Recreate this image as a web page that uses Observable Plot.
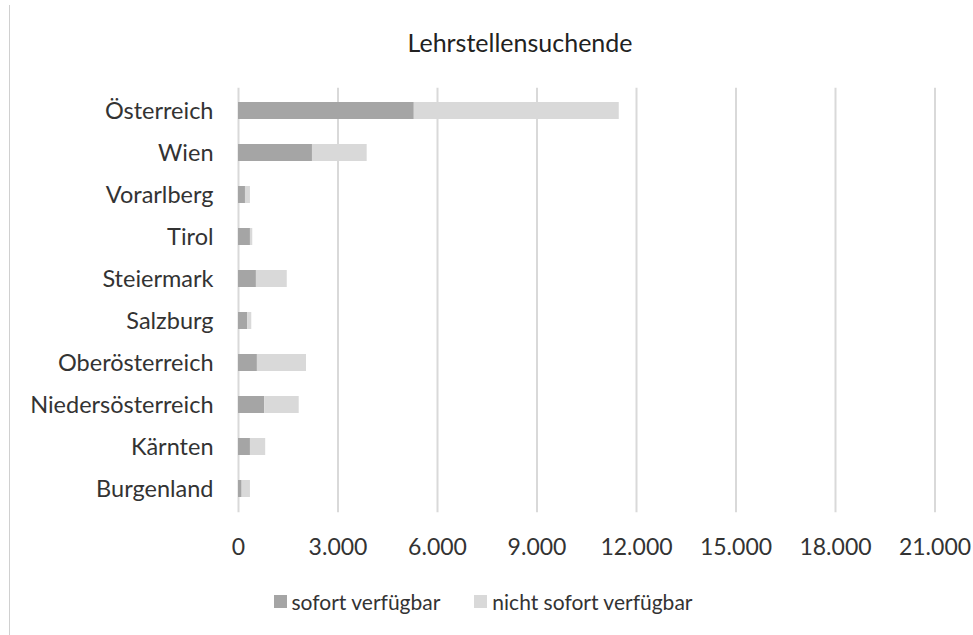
<!DOCTYPE html>
<html>
<head>
<meta charset="utf-8">
<script src="https://cdn.jsdelivr.net/npm/d3@7"></script>
<script src="https://cdn.jsdelivr.net/npm/@observablehq/plot@0.6"></script>
<style>
  html, body { margin: 0; padding: 0; background: #fff; }
  #wrap { position: relative; width: 973px; height: 635px; overflow: hidden; font-family: Lato, "Open Sans", sans-serif; }
  #frame { position: absolute; left: 9px; top: 5px; width: 1px; height: 640px; background: #d0d0d0; z-index: 5; }
  #title { position: absolute; top: 27px; left: 0; width: 1040px; text-align: center; font-size: 25px; color: #222; }
  #chart { position: absolute; top: 70px; left: 0; }
  #legend { position: absolute; top: 589px; left: 0; width: 966px; display: flex; justify-content: center; gap: 34px; font-size: 21px; color: #333; }
  #legend .item { display: flex; align-items: center; gap: 5px; }
  #legend .sw { width: 13px; height: 13px; display: inline-block; }
</style>
</head>
<body>
<div id="wrap">
  <div id="frame"></div>
  <div id="title">Lehrstellensuchende</div>
  <div id="chart"></div>
  <div id="legend"></div>
</div>
<script>
const regions = ["Österreich", "Wien", "Vorarlberg", "Tirol", "Steiermark", "Salzburg", "Oberösterreich", "Niedersösterreich", "Kärnten", "Burgenland"];
const series = ["sofort verfügbar", "nicht sofort verfügbar"];
const sofort = [5300, 2230, 210, 360, 540, 280, 570, 790, 360, 110];
const nichtSofort = [6180, 1650, 150, 70, 930, 120, 1480, 1040, 460, 250];
const colors = ["#a5a5a5", "#d9d9d9"];
const xTicks = [0, 3000, 6000, 9000, 12000, 15000, 18000, 21000];

const data = [];
regions.forEach((r, i) => {
  data.push({region: r, series: series[0], value: sofort[i]});
  data.push({region: r, series: series[1], value: nichtSofort[i]});
});

const fmt = d => d3.format(",")(d).replace(/,/g, ".");

const plot = Plot.plot({
  width: 973,
  height: 505,
  marginTop: 17.8,
  marginBottom: 62.8,
  marginLeft: 238,
  marginRight: 38.5,
  style: {fontFamily: "Lato, 'Open Sans', sans-serif", fontSize: "23px", color: "#333", background: "#fff"},
  x: {domain: [0, 21000], ticks: xTicks, tickFormat: fmt, label: null, tickSize: 0, tickPadding: 26},
  y: {domain: regions, paddingInner: 0.59, paddingOuter: 0.295, label: null, tickSize: 0, tickPadding: 25},
  color: {domain: series, range: colors},
  marks: [
    Plot.ruleX(xTicks, {stroke: "#d9d9d9", strokeWidth: 2}),
    Plot.barX(data, {x: "value", y: "region", fill: "series"}),
    Plot.axisX({ticks: xTicks, tickFormat: fmt, tickSize: 0, tickPadding: 26, label: null, fontSize: 23, fill: "#333"}),
    Plot.axisY({tickSize: 0, tickPadding: 25, label: null, fontSize: 23.5, fill: "#333"})
  ]
});
document.getElementById("chart").appendChild(plot);

const legend = document.getElementById("legend");
series.forEach((s, i) => {
  const it = document.createElement("div");
  it.className = "item";
  const sw = document.createElement("span");
  sw.className = "sw";
  sw.style.background = colors[i];
  const t = document.createElement("span");
  t.textContent = s;
  it.appendChild(sw);
  it.appendChild(t);
  legend.appendChild(it);
});
</script>
</body>
</html>
